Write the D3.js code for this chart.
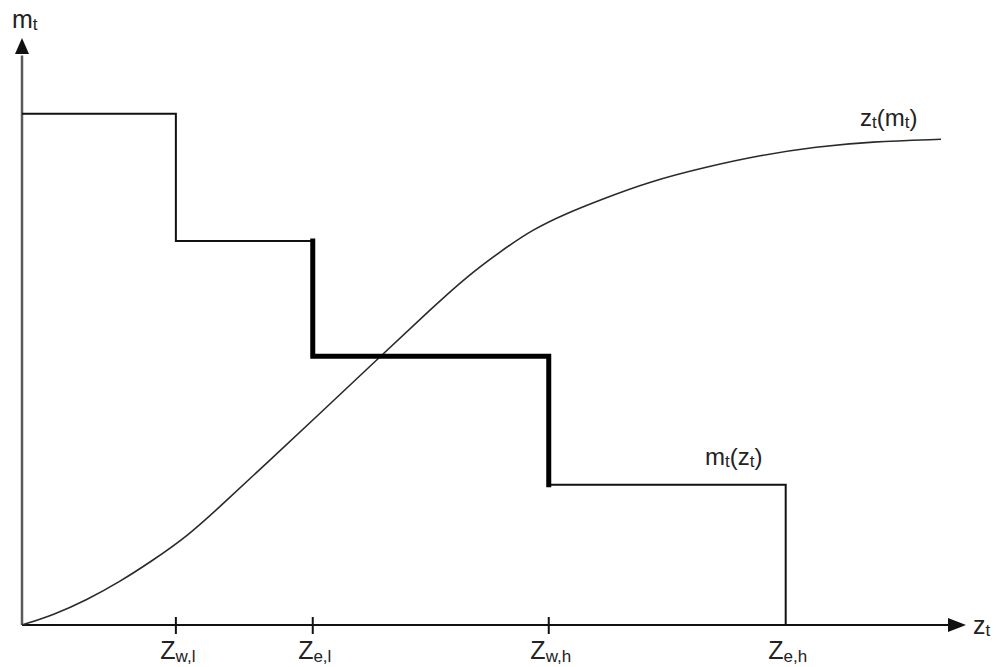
<!DOCTYPE html>
<html>
<head>
<meta charset="utf-8">
<script src="https://cdn.jsdelivr.net/npm/d3@7"></script>
<style>
  html, body { margin: 0; padding: 0; background: #fff; }
  svg { display: block; font-family: "Liberation Sans", Arial, sans-serif; }
</style>
</head>
<body>
<svg id="chart" width="997" height="667"></svg>
<script>
// ---- data (abstract units, 0..100 on both axes) ----
const stepBreaks = [0, 16.3, 30.8, 55.8, 80.9];      // z thresholds
const stepLevels = [87.1, 65.4, 45.8, 23.9];         // m levels between thresholds
const tickSubs   = ["w,l", "e,l", "w,h", "e,h"];     // tick label subscripts (for breaks 1..4)
const curveX = [0, 3.32, 6.85, 10.38, 13.91, 17.45, 20.97, 26.27, 31.57, 37.57, 43.57, 47.11, 50.64, 54.16, 57.7, 61.23, 66.31, 72.56, 78.36, 84.11, 89.91, 97.35];
const curveY = [0, 1.7, 4.26, 7.38, 11.07, 15.04, 20.15, 28.11, 36.06, 45.14, 54.22, 59.34, 63.59, 67.46, 70.14, 72.4, 75.47, 78.07, 80.07, 81.48, 82.33, 82.74];

const svg = d3.select("#chart");
const x = d3.scaleLinear().domain([0, 100]).range([22, 966]);
const y = d3.scaleLinear().domain([0, 100]).range([625, 38]);

// ---- axes ----
svg.append("line").attr("x1", x(0)).attr("y1", y(0)).attr("x2", x(0)).attr("y2", y(97))
  .attr("stroke", "#5a5a5a").attr("stroke-width", 2.5);
svg.append("path")
  .attr("d", `M${x(0)},${y(100)} L${x(0) - 7},${y(100) + 16} L${x(0) + 7},${y(100) + 16} Z`)
  .attr("fill", "#111");
svg.append("line").attr("x1", x(0)).attr("y1", y(0)).attr("x2", x(98.5)).attr("y2", y(0))
  .attr("stroke", "#111").attr("stroke-width", 2);
svg.append("path")
  .attr("d", `M${x(100)},${y(0)} L${x(100) - 18},${y(0) - 7} L${x(100) - 18},${y(0) + 7} Z`)
  .attr("fill", "#111");

// ticks (the last threshold is marked by the step's vertical drop)
svg.selectAll("line.tick").data(stepBreaks.slice(1, 4)).enter().append("line")
  .attr("class", "tick")
  .attr("x1", d => x(d)).attr("x2", d => x(d))
  .attr("y1", y(0) - 8).attr("y2", y(0) + 9)
  .attr("stroke", "#111").attr("stroke-width", 2);

// tick labels
const tl = svg.selectAll("text.tl").data(stepBreaks.slice(1)).enter().append("text")
  .attr("class", "tl")
  .attr("x", d => x(d) + 2).attr("y", 659)
  .attr("text-anchor", "middle").attr("fill", "#222");
tl.append("tspan").attr("font-size", 25).text("Z");
tl.append("tspan").attr("font-size", 17).attr("dy", 3).text((d, i) => tickSubs[i]);

// axis titles
const yt = svg.append("text").attr("x", 12).attr("y", 28).attr("fill", "#222");
yt.append("tspan").attr("font-size", 25).text("m");
yt.append("tspan").attr("font-size", 17).attr("dy", 2).text("t");

const xt = svg.append("text").attr("x", 973).attr("y", 634).attr("fill", "#222");
xt.append("tspan").attr("font-size", 25).text("z");
xt.append("tspan").attr("font-size", 17).attr("dy", 2).text("t");

// ---- curve z_t(m_t) ----
const curvePts = curveX.map((d, i) => [d, curveY[i]]);
svg.append("path").datum(curvePts)
  .attr("d", d3.line().x(d => x(d[0])).y(d => y(d[1])).curve(d3.curveBasis))
  .attr("fill", "none").attr("stroke", "#2a2a2a").attr("stroke-width", 1.6);

// ---- step function m_t(z_t) ----
const stepPts = [];
stepLevels.forEach((lv, i) => {
  stepPts.push([stepBreaks[i], lv]);
  stepPts.push([stepBreaks[i + 1], lv]);
});
stepPts.push([stepBreaks[4], 0]);
const line = d3.line().x(d => x(d[0])).y(d => y(d[1]));

// thin parts
svg.append("path").datum(stepPts.slice(0, 4))
  .attr("d", line).attr("fill", "none").attr("stroke", "#111").attr("stroke-width", 2);
svg.append("path").datum(stepPts.slice(6))
  .attr("d", line).attr("fill", "none").attr("stroke", "#111").attr("stroke-width", 2);
// thick middle part
svg.append("path").datum(stepPts.slice(3, 7))
  .attr("d", line).attr("fill", "none").attr("stroke", "#000").attr("stroke-width", 5)
  .attr("stroke-linejoin", "miter").attr("stroke-linecap", "square");

// curve labels
function curveLabel(px, py, a, b) {
  const t = svg.append("text").attr("x", px).attr("y", py).attr("fill", "#222");
  t.append("tspan").attr("font-size", 24).text(a);
  t.append("tspan").attr("font-size", 17).attr("dy", 2).text("t");
  t.append("tspan").attr("font-size", 24).attr("dy", -2).text("(" + b);
  t.append("tspan").attr("font-size", 17).attr("dy", 2).text("t");
  t.append("tspan").attr("font-size", 24).attr("dy", -2).text(")");
}
curveLabel(860, 126, "z", "m");
curveLabel(705, 465, "m", "z");
</script>
</body>
</html>
